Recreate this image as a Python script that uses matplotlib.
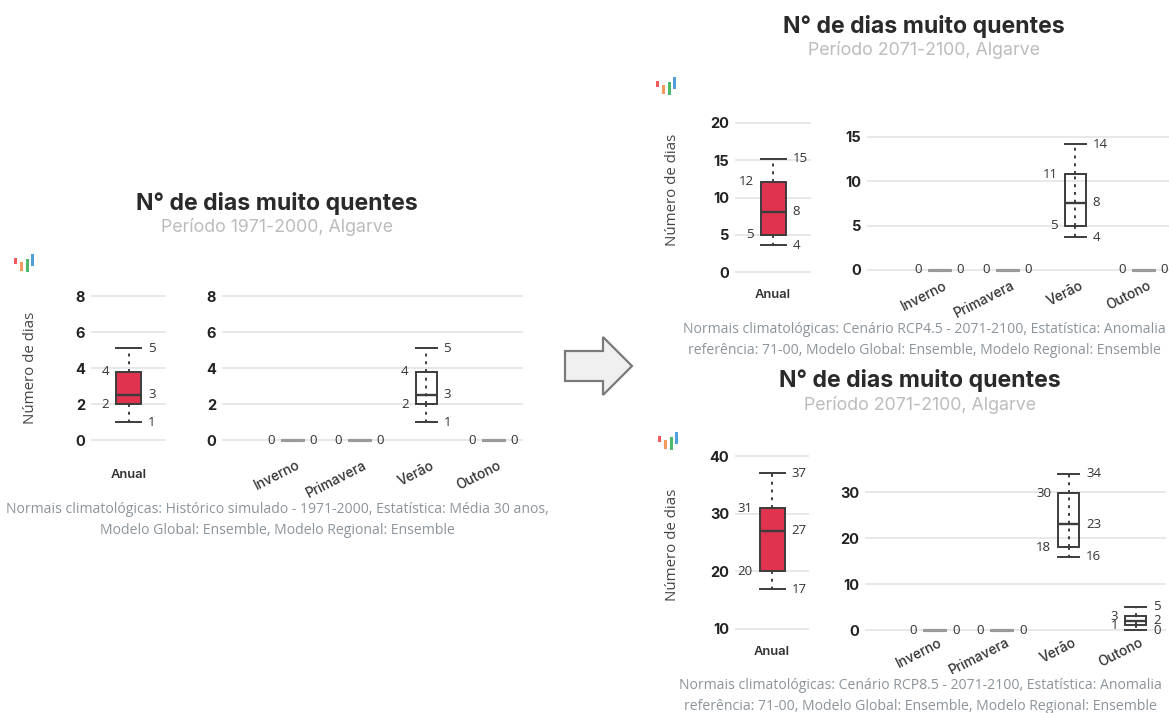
import matplotlib
matplotlib.use('Agg')
import matplotlib.pyplot as plt
from matplotlib.patches import Polygon, Rectangle
from matplotlib.transforms import ScaledTranslation

# N de dias muito quentes, Algarve: historico vs RCP4.5 vs RCP8.5

estacoes = ['Inverno', 'Primavera', 'Verão', 'Outono']

# whislo, q1, mediana, q3, whishi
hist_anual = [1, 2, 2.5, 3.8, 5.1]
hist_inverno = [0, 0, 0, 0, 0]
hist_primavera = [0, 0, 0, 0, 0]
hist_verao = [1, 2, 2.5, 3.8, 5.1]
hist_outono = [0, 0, 0, 0, 0]

rcp45_anual = [3.6, 5, 8.1, 12.1, 15.2]
rcp45_inverno = [0, 0, 0, 0, 0]
rcp45_primavera = [0, 0, 0, 0, 0]
rcp45_verao = [3.7, 5, 7.6, 10.8, 14.2]
rcp45_outono = [0, 0, 0, 0, 0]

rcp85_anual = [16.9, 20, 27, 30.9, 37]
rcp85_inverno = [0, 0, 0, 0, 0]
rcp85_primavera = [0, 0, 0, 0, 0]
rcp85_verao = [15.9, 18, 23, 29.7, 34]
rcp85_outono = [0, 1, 2, 3, 5]

# etiquetas escritas no grafico (lo, q1, med, q3, hi)
hist_anual_lab = ['1', '2', '3', '4', '5']
hist_verao_lab = ['1', '2', '3', '4', '5']
rcp45_anual_lab = ['4', '5', '8', '12', '15']
rcp45_verao_lab = ['4', '5', '8', '11', '14']
rcp85_anual_lab = ['17', '20', '27', '31', '37']
rcp85_verao_lab = ['16', '18', '23', '30', '34']
rcp85_outono_lab = ['0', '1', '2', '3', '5']

titulo = 'N° de dias muito quentes'
subtitulo_hist = 'Período 1971-2000, Algarve'
subtitulo_cen = 'Período 2071-2100, Algarve'
nota_hist = ('Normais climatológicas: Histórico simulado - 1971-2000, Estatística: Média 30 anos,\n'
             'Modelo Global: Ensemble, Modelo Regional: Ensemble')
nota_45 = ('Normais climatológicas: Cenário RCP4.5 - 2071-2100, Estatística: Anomalia\n'
           'referência: 71-00, Modelo Global: Ensemble, Modelo Regional: Ensemble')
nota_85 = ('Normais climatológicas: Cenário RCP8.5 - 2071-2100, Estatística: Anomalia\n'
           'referência: 71-00, Modelo Global: Ensemble, Modelo Regional: Ensemble')

LARG, ALT = 1169, 713
FONTE_TIT = ['Inter', 'DejaVu Sans']
FONTE_TXT = ['Open Sans', 'DejaVu Sans']
ESCURO = '#3c3c3c'
VERMELHO = '#e0334f'
GRELHA = '#e8e8e8'

fig = plt.figure(figsize=(LARG / 100, ALT / 100), dpi=100, facecolor='white')


def eixo_px(x0, x1, y_topo, y_base):
    return fig.add_axes([x0 / LARG, 1 - y_base / ALT, (x1 - x0) / LARG, (y_base - y_topo) / ALT])


def texto_px(x, y, s, **kw):
    fig.text(x / LARG, 1 - y / ALT, s, ha='center', va='center', **kw)


def cabecalho(x, y, subtitulo):
    texto_px(x, y, titulo, fontsize=16.6, fontweight='bold', family=FONTE_TIT, color='#2a2a2a')
    texto_px(x, y + 24, subtitulo, fontsize=12.8, family=FONTE_TIT, color='#bcbcbc')


def nota(x, y, s):
    # fundo branco: tal como no original, a nota corta o fundo do "Primavera"
    texto_px(x, y, s, fontsize=10.1, family=FONTE_TXT, color='#8b949b', linespacing=1.5,
             zorder=10, bbox=dict(facecolor='white', edgecolor='none', pad=3))


def preparar(ax, ylim, ticks, grelha_cima=False):
    ax.set_ylim(ylim)
    ax.set_yticks(ticks)
    for lado in ax.spines.values():
        lado.set_visible(False)
    ax.tick_params(axis='both', length=0)
    ax.tick_params(axis='y', pad=5, labelsize=10.5, labelcolor='#222222')
    for t in ax.get_yticklabels():
        t.set_fontfamily(FONTE_TIT)
        t.set_fontweight('bold')
    ax.yaxis.grid(True, color=GRELHA, lw=1.4, clip_on=False)
    for linha in ax.get_ygridlines():
        linha.set_clip_on(False)
        linha.set_zorder(4 if grelha_cima else 0.5)
    ax.set_axisbelow(False if grelha_cima else True)
    ax.patch.set_alpha(0)


def caixa(ax, pos, v, larg, larg_px, cor=None, lab=None):
    stats = [{'whislo': v[0], 'q1': v[1], 'med': v[2], 'q3': v[3], 'whishi': v[4], 'fliers': []}]
    plano = v[0] == v[4]
    c = '#9a9a9a' if plano else ESCURO
    lw = 2.0 if plano else 1.4
    ax.bxp(stats, positions=[pos], widths=larg, patch_artist=True, showcaps=True,
           manage_ticks=False,
           boxprops=dict(facecolor=cor if cor else 'none', edgecolor=c, linewidth=lw),
           medianprops=dict(color=c, linewidth=lw + 0.3),
           whiskerprops=dict(color=c, linewidth=1.4, linestyle=(0, (1.5, 2.5))),
           capprops=dict(color=c, linewidth=lw), capwidths=larg)
    if not plano and cor is None:
        # nas caixas sem cor o tracejado atravessa a caixa
        ax.plot([pos, pos], [v[1], v[3]], color=c, lw=1.4, ls=(0, (1.5, 2.5)))
    for art in ax.lines:
        art.set_clip_on(False)
        art.set_zorder(5)
    for art in ax.patches:
        art.set_clip_on(False)
        art.set_zorder(3)

    d = (larg_px / 2 + 7) * 0.72
    etq = dict(fontsize=9.5, color='#333333', family=FONTE_TXT, va='center',
               textcoords='offset points', annotation_clip=False, zorder=6)
    if lab is None:
        ax.annotate('0', (pos, 0), xytext=(d, 0), ha='left', **etq)
        ax.annotate('0', (pos, 0), xytext=(-d, 0), ha='right', **etq)
        return
    for i in (0, 2, 4):
        ax.annotate(lab[i], (pos, v[i]), xytext=(d, 0), ha='left', **etq)
    for i in (1, 3):
        ax.annotate(lab[i], (pos, v[i]), xytext=(-d, 0), ha='right', **etq)


def logo(x, y):
    barras = [(0, 4, 3, 6, '#ef5a5a'), (6, 8, 3, 9, '#f59a5e'),
              (12, 5, 3, 13, '#4cb86a'), (17, 0, 3, 12, '#4f9fd8')]
    for dx, dy, w, h, c in barras:
        fig.add_artist(Rectangle(((x + dx) / LARG, 1 - (y + dy + h) / ALT), w / LARG, h / ALT,
                                 transform=fig.transFigure, facecolor=c, edgecolor='none'))


def painel_anual(x0, x1, y_topo, y_base, ylim, ticks, valores, lab, pad, grelha_cima=False):
    ax = eixo_px(x0, x1, y_topo, y_base)
    preparar(ax, ylim, ticks, grelha_cima)
    ax.set_xlim(-0.5, 0.5)
    caixa(ax, 0, valores, 25 / (x1 - x0), 25, cor=VERMELHO, lab=lab)
    ax.set_xticks([0])
    ax.set_xticklabels(['Anual'], fontsize=9.3, fontweight='semibold', family=FONTE_TIT, color='#333333')
    ax.tick_params(axis='x', pad=pad)
    return ax


def painel_estacoes(x0, x1, y_topo, y_base, ylim, ticks, centro, passo, series, labs, pad):
    ax = eixo_px(x0, x1, y_topo, y_base)
    preparar(ax, ylim, ticks)
    ax.set_xlim((x0 - centro) / passo, (x1 - centro) / passo)
    for i, v in enumerate(series):
        caixa(ax, i, v, 21 / passo, 21, lab=labs[i])
    ax.set_xticks(range(len(estacoes)))
    ax.set_xticklabels(estacoes, rotation=27, ha='right', rotation_mode='anchor', fontsize=9.8,
                       fontweight='medium', family=FONTE_TIT, color='#333333')
    ax.tick_params(axis='x', pad=pad)
    desvio = ScaledTranslation(4 / 100, 0, fig.dpi_scale_trans)
    for t in ax.get_xticklabels():
        t.set_transform(t.get_transform() + desvio)
    return ax


def rotulo_y(x, y):
    texto_px(x, y, 'Número de dias', rotation=90, fontsize=10.8, family=FONTE_TXT, color='#444444')


# historico, esquerda
cabecalho(277, 203, subtitulo_hist)
logo(14, 254)
rotulo_y(30, 368)
painel_anual(92, 165, 296, 440, (0, 8), [0, 2, 4, 6, 8], hist_anual, hist_anual_lab, 21)
painel_estacoes(223, 522, 296, 440, (0, 8), [0, 2, 4, 6, 8], 292, 67,
                [hist_inverno, hist_primavera, hist_verao, hist_outono],
                [None, None, hist_verao_lab, None], 13)
nota(277, 520, nota_hist)

# RCP4.5, cima
cabecalho(924, 26, subtitulo_cen)
logo(656, 77)
rotulo_y(672, 190)
painel_anual(736, 810, 123, 272, (0, 20), [0, 5, 10, 15, 20], rcp45_anual, rcp45_anual_lab, 12,
             grelha_cima=True)
painel_estacoes(868, 1169, 137, 270, (0, 15), [0, 5, 10, 15], 939, 68,
                [rcp45_inverno, rcp45_primavera, rcp45_verao, rcp45_outono],
                [None, None, rcp45_verao_lab, None], 6)
nota(924, 340, nota_45)

# RCP8.5, baixo
cabecalho(920, 381, subtitulo_cen)
logo(658, 432)
rotulo_y(673, 545)
painel_anual(736, 808, 456, 629, (10, 40), [10, 20, 30, 40], rcp85_anual, rcp85_anual_lab, 12)
painel_estacoes(866, 1165, 469, 630, (0, 35), [0, 10, 20, 30], 934.5, 67,
                [rcp85_inverno, rcp85_primavera, rcp85_verao, rcp85_outono],
                [None, None, rcp85_verao_lab, rcp85_outono_lab], 4)
nota(920, 696, nota_85)

# seta entre os paineis
seta_x = [565, 603, 603, 632, 603, 603, 565]
seta_y = [351, 351, 337, 366, 395, 381, 381]
fig.add_artist(Polygon([(x / LARG, 1 - y / ALT) for x, y in zip(seta_x, seta_y)],
                       closed=True, transform=fig.transFigure,
                       facecolor='#f0f0f0', edgecolor='#7a7a7a', linewidth=1.6))

fig.savefig('out.png', dpi=100)
